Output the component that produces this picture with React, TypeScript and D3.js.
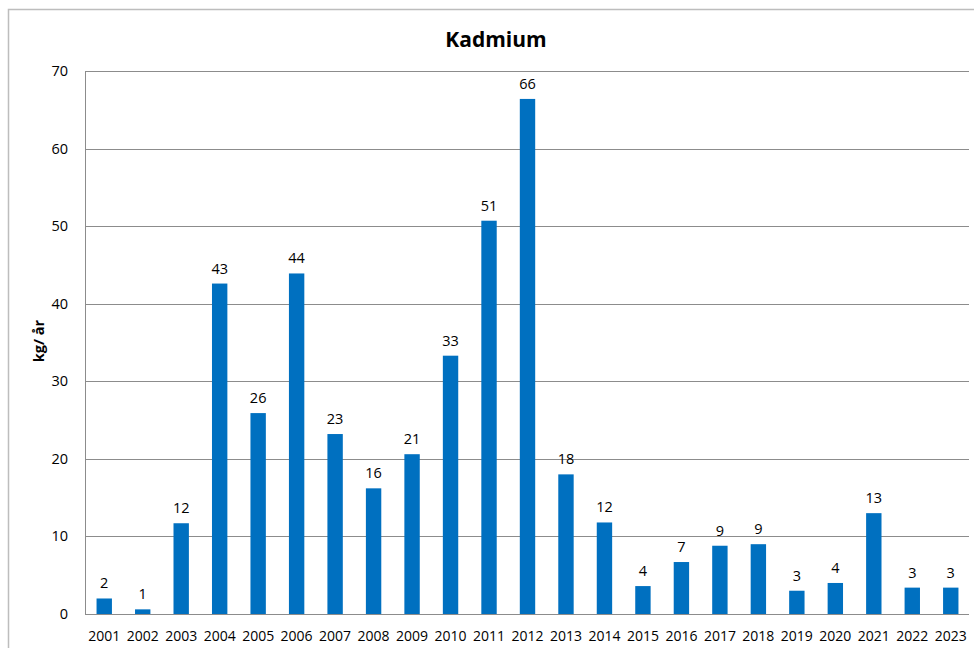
import React, { useEffect, useRef } from 'react';
import * as d3 from 'd3';

// Data
const years = ['2001', '2002', '2003', '2004', '2005', '2006', '2007', '2008', '2009', '2010', '2011', '2012',
  '2013', '2014', '2015', '2016', '2017', '2018', '2019', '2020', '2021', '2022', '2023'];
const values = [2.0, 0.6, 11.7, 42.6, 25.9, 43.9, 23.2, 16.2, 20.6, 33.3, 50.7, 66.4,
  18.0, 11.8, 3.6, 6.7, 8.8, 9.0, 3.0, 4.0, 13.0, 3.4, 3.4];
const barLabels = ['2', '1', '12', '43', '26', '44', '23', '16', '21', '33', '51', '66',
  '18', '12', '4', '7', '9', '9', '3', '4', '13', '3', '3'];
const yTicks = [0, 10, 20, 30, 40, 50, 60, 70];

const App = () => {
  const chartRef = useRef<SVGSVGElement>(null);

  useEffect(() => {
    const width = 974;
    const height = 648;
    const margin = { top: 71, right: 4, bottom: 34, left: 85 };
    const font = '"Open Sans", sans-serif';

    const svg = d3.select(chartRef.current);
    svg.selectAll('*').remove();

    svg.append('rect')
      .attr('width', width)
      .attr('height', height)
      .attr('fill', '#fff');

    // Outer chart border
    svg.append('rect')
      .attr('x', 8.5)
      .attr('y', 9.5)
      .attr('width', width + 10)
      .attr('height', height + 10)
      .attr('fill', 'none')
      .attr('stroke', '#bdbdbd')
      .attr('stroke-width', 1.5);

    const xScale = d3.scaleBand()
      .domain(years)
      .range([margin.left, width - margin.right])
      .paddingInner(0.6)
      .paddingOuter(0.3);

    const yScale = d3.scaleLinear()
      .domain([0, 70])
      .range([height - margin.bottom, margin.top]);

    // Gridlines
    svg.append('g')
      .selectAll('line')
      .data(yTicks)
      .join('line')
      .attr('x1', margin.left)
      .attr('x2', width - margin.right - 1)
      .attr('y1', d => Math.round(yScale(d)) + 0.5)
      .attr('y2', d => Math.round(yScale(d)) + 0.5)
      .attr('stroke', '#8c8c8c')
      .attr('stroke-width', 1);

    // Y axis line
    svg.append('line')
      .attr('x1', margin.left + 0.5)
      .attr('x2', margin.left + 0.5)
      .attr('y1', yScale(70))
      .attr('y2', yScale(0))
      .attr('stroke', '#8c8c8c');

    // Y tick labels
    svg.append('g')
      .selectAll('text')
      .data(yTicks)
      .join('text')
      .attr('x', 68)
      .attr('y', d => yScale(d) + 5)
      .attr('text-anchor', 'end')
      .attr('font-family', font)
      .attr('font-size', 14.5)
      .attr('fill', '#000')
      .text(d => d);

    // Bars
    svg.append('g')
      .selectAll('rect')
      .data(values)
      .join('rect')
      .attr('x', (d, i) => xScale(years[i]))
      .attr('y', d => yScale(d))
      .attr('width', xScale.bandwidth())
      .attr('height', d => yScale(0) - yScale(d))
      .attr('fill', '#0070c0');

    // Bar value labels
    svg.append('g')
      .selectAll('text')
      .data(values)
      .join('text')
      .attr('x', (d, i) => xScale(years[i]) + xScale.bandwidth() / 2)
      .attr('y', d => yScale(d) - 10)
      .attr('text-anchor', 'middle')
      .attr('font-family', font)
      .attr('font-size', 14.5)
      .attr('fill', '#000')
      .text((d, i) => barLabels[i]);

    // X labels
    svg.append('g')
      .selectAll('text')
      .data(years)
      .join('text')
      .attr('x', d => xScale(d) + xScale.bandwidth() / 2)
      .attr('y', 641)
      .attr('text-anchor', 'middle')
      .attr('font-family', font)
      .attr('font-size', 14)
      .attr('fill', '#000')
      .text(d => d);

    // Title
    svg.append('text')
      .attr('x', 496)
      .attr('y', 47)
      .attr('text-anchor', 'middle')
      .attr('font-family', font)
      .attr('font-size', 21)
      .attr('font-weight', 'bold')
      .attr('fill', '#000')
      .text('Kadmium');

    // Y axis title
    svg.append('text')
      .attr('transform', 'translate(44, 341) rotate(-90)')
      .attr('text-anchor', 'middle')
      .attr('font-family', font)
      .attr('font-size', 14.5)
      .attr('font-weight', 'bold')
      .attr('fill', '#000')
      .text('kg/ år');
  }, []);

  return (
    <svg
      ref={chartRef}
      width={974}
      height={648}
      style={{ position: 'fixed', top: 0, left: 0, display: 'block' }}
    />
  );
};

export default App;
